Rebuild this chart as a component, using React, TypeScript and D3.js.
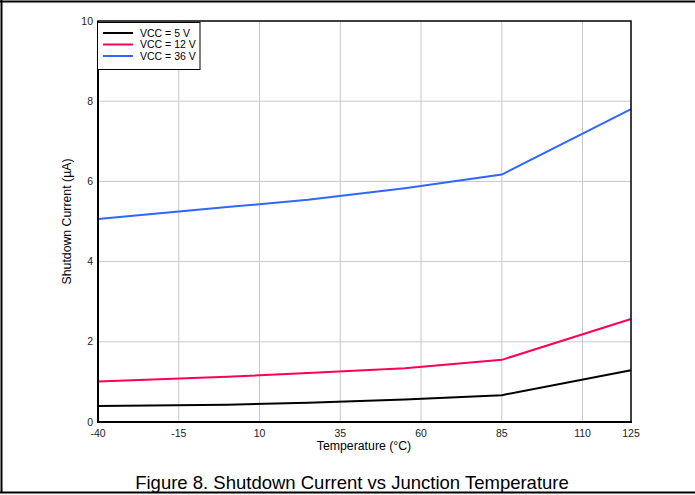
import React from "react";
import * as d3 from "d3";

const temps = [-40, 0, 25, 55, 85, 125];
const vcc5 = [0.40, 0.43, 0.48, 0.56, 0.67, 1.29];
const vcc12 = [1.01, 1.13, 1.22, 1.34, 1.55, 2.57];
const vcc36 = [5.06, 5.36, 5.54, 5.83, 6.17, 7.80];
const xTicks = [-40, -15, 10, 35, 60, 85, 110, 125];
const yTicks = [0, 2, 4, 6, 8, 10];
const seriesNames = ["VCC = 5 V", "VCC = 12 V", "VCC = 36 V"];
const seriesColors = ["#000000", "#ff0055", "#3366ff"];

export default function App() {
  const W = 695, H = 495;
  const left = 98, right = 631, top = 21, bottom = 422;
  const x = d3.scaleLinear().domain([-40, 125]).range([left, right]);
  const y = d3.scaleLinear().domain([0, 10]).range([bottom, top]);
  const line = d3.line<number>().x((_, i) => x(temps[i])).y((d) => y(d));
  const series = [vcc5, vcc12, vcc36];
  const font = "Arial, 'Liberation Sans', sans-serif";
  return (
    <svg width={W} height={H} style={{ position: "absolute", left: 0, top: 0 }} fontFamily={font}>
      <rect x={0} y={0} width={W} height={H} fill="#fff" />
      {/* outer frame */}
      <line x1={0} x2={W} y1={1.5} y2={1.5} stroke="#000" strokeWidth={2} />
      <line x1={1.5} x2={1.5} y1={0} y2={493} stroke="#000" strokeWidth={2} />
      <line x1={0} x2={W} y1={492.5} y2={492.5} stroke="#000" strokeWidth={2} />
      {/* grid */}
      {xTicks.slice(1, -1).map((t) => (
        <line key={"gx" + t} x1={x(t)} x2={x(t)} y1={top} y2={bottom} stroke="#c8c8c8" strokeWidth={1} />
      ))}
      {yTicks.slice(1, -1).map((t) => (
        <line key={"gy" + t} x1={left} x2={right} y1={y(t)} y2={y(t)} stroke="#c8c8c8" strokeWidth={1} />
      ))}
      {/* series */}
      {series.map((s, i) => (
        <path key={i} d={line(s) || ""} fill="none" stroke={seriesColors[i]} strokeWidth={2} />
      ))}
      {/* plot frame */}
      <rect x={left} y={top} width={right - left} height={bottom - top} fill="none" stroke="#000" strokeWidth={1.5} />
      <line x1={left} x2={left} y1={top} y2={bottom + 1} stroke="#000" strokeWidth={2} />
      <line x1={left - 1} x2={right + 1} y1={bottom} y2={bottom} stroke="#000" strokeWidth={2} />
      {/* tick labels */}
      {yTicks.map((t) => (
        <text key={"ty" + t} x={left - 5} y={y(t)} dy="0.35em" textAnchor="end" fontSize={10.5} fill="#222">{t}</text>
      ))}
      {xTicks.map((t) => (
        <text key={"tx" + t} x={x(t)} y={bottom + 11} dy="0.35em" textAnchor="middle" fontSize={10.5} fill="#222">{t}</text>
      ))}
      <text x={364} y={446} dy="0.35em" textAnchor="middle" fontSize={12.3} fill="#000">Temperature (°C)</text>
      <text transform={`translate(67, ${(top + bottom) / 2}) rotate(-90)`} dy="0.35em" textAnchor="middle" fontSize={12.3} fill="#000">Shutdown Current (µA)</text>
      {/* legend */}
      <rect x={97.5} y={22.5} width={102.5} height={47} fill="#fff" stroke="#000" strokeWidth={1} />
      {seriesNames.map((n, i) => (
        <g key={n}>
          <line x1={103} x2={133} y1={33 + i * 11.5} y2={33 + i * 11.5} stroke={seriesColors[i]} strokeWidth={2} />
          <text x={140} y={33 + i * 11.5} dy="0.35em" fontSize={10.5} fill="#000">{n}</text>
        </g>
      ))}
      <text x={352} y={483} dy="0.35em" textAnchor="middle" fontSize={18.5} fill="#000">Figure 8. Shutdown Current vs Junction Temperature</text>
    </svg>
  );
}
